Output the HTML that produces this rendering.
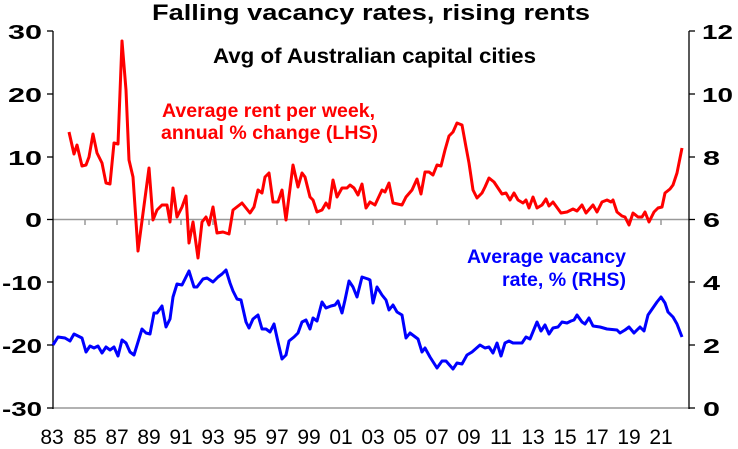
<!DOCTYPE html><html><head><style>body{margin:0;background:#fff}svg{display:block;font-family:"Liberation Sans",Arial,sans-serif;font-weight:bold}</style></head><body>
<svg width="738" height="449" viewBox="0 0 738 449">
<rect width="738" height="449" fill="#fff"/>
<text x="152" y="20" font-size="22" textLength="438" lengthAdjust="spacingAndGlyphs">Falling vacancy rates, rising rents</text>
<text x="213" y="63" font-size="21" textLength="323" lengthAdjust="spacingAndGlyphs">Avg of Australian capital cities</text>
<text x="162" y="117" font-size="19" fill="#f00" textLength="213" lengthAdjust="spacingAndGlyphs">Average rent per week,</text>
<text x="161" y="139" font-size="19" fill="#f00" textLength="217" lengthAdjust="spacingAndGlyphs">annual % change (LHS)</text>
<text x="467" y="263" font-size="19" fill="#00f" textLength="159" lengthAdjust="spacingAndGlyphs">Average vacancy</text>
<text x="502" y="286" font-size="19" fill="#00f" textLength="124" lengthAdjust="spacingAndGlyphs">rate, % (RHS)</text>
<g stroke="#999" stroke-width="1.5">
<line x1="53" y1="219.5" x2="689" y2="219.5"/>
<line x1="53" y1="408" x2="689" y2="408"/>
<line x1="85" y1="219" x2="85" y2="225"/><line x1="117" y1="219" x2="117" y2="225"/><line x1="149" y1="219" x2="149" y2="225"/><line x1="181" y1="219" x2="181" y2="225"/><line x1="213" y1="219" x2="213" y2="225"/><line x1="245" y1="219" x2="245" y2="225"/><line x1="277" y1="219" x2="277" y2="225"/><line x1="309" y1="219" x2="309" y2="225"/><line x1="341" y1="219" x2="341" y2="225"/><line x1="373" y1="219" x2="373" y2="225"/><line x1="405" y1="219" x2="405" y2="225"/><line x1="437" y1="219" x2="437" y2="225"/><line x1="469" y1="219" x2="469" y2="225"/><line x1="501" y1="219" x2="501" y2="225"/><line x1="533" y1="219" x2="533" y2="225"/><line x1="565" y1="219" x2="565" y2="225"/><line x1="597" y1="219" x2="597" y2="225"/><line x1="629" y1="219" x2="629" y2="225"/><line x1="661" y1="219" x2="661" y2="225"/>
</g>
<g stroke="#000" stroke-width="1.3">
<line x1="53" y1="31" x2="53" y2="409"/><line x1="689" y1="31" x2="689" y2="409"/>
<line x1="47" y1="31" x2="53" y2="31"/><line x1="47" y1="94" x2="53" y2="94"/><line x1="47" y1="157" x2="53" y2="157"/><line x1="47" y1="219.5" x2="53" y2="219.5"/><line x1="47" y1="282" x2="53" y2="282"/><line x1="47" y1="345" x2="53" y2="345"/><line x1="47" y1="408" x2="53" y2="408"/>
<line x1="689" y1="31" x2="695" y2="31"/><line x1="689" y1="94" x2="695" y2="94"/><line x1="689" y1="157" x2="695" y2="157"/><line x1="689" y1="219.5" x2="695" y2="219.5"/><line x1="689" y1="282" x2="695" y2="282"/><line x1="689" y1="345" x2="695" y2="345"/><line x1="689" y1="408" x2="695" y2="408"/>
</g>
<g font-size="20">
<text x="8" y="39" textLength="34" lengthAdjust="spacingAndGlyphs">30</text><text x="8" y="102" textLength="34" lengthAdjust="spacingAndGlyphs">20</text><text x="8" y="165" textLength="34" lengthAdjust="spacingAndGlyphs">10</text><text x="25" y="227" textLength="17" lengthAdjust="spacingAndGlyphs">0</text><text x="2" y="290" textLength="40" lengthAdjust="spacingAndGlyphs">-10</text><text x="2" y="353" textLength="40" lengthAdjust="spacingAndGlyphs">-20</text><text x="2" y="416" textLength="40" lengthAdjust="spacingAndGlyphs">-30</text>
</g>
<g font-size="20">
<text x="702" y="39" textLength="31" lengthAdjust="spacingAndGlyphs">12</text><text x="702" y="102" textLength="31" lengthAdjust="spacingAndGlyphs">10</text><text x="703" y="165" textLength="17" lengthAdjust="spacingAndGlyphs">8</text><text x="703" y="227" textLength="17" lengthAdjust="spacingAndGlyphs">6</text><text x="703" y="290" textLength="17" lengthAdjust="spacingAndGlyphs">4</text><text x="703" y="353" textLength="17" lengthAdjust="spacingAndGlyphs">2</text><text x="703" y="416" textLength="17" lengthAdjust="spacingAndGlyphs">0</text>
</g>
<g font-size="21" text-anchor="middle" style="font-weight:normal">
<text x="52" y="444">83</text><text x="85" y="444">85</text><text x="117" y="444">87</text><text x="149" y="444">89</text><text x="181" y="444">91</text><text x="213" y="444">93</text><text x="245" y="444">95</text><text x="277" y="444">97</text><text x="309" y="444">99</text><text x="341" y="444">01</text><text x="373" y="444">03</text><text x="405" y="444">05</text><text x="437" y="444">07</text><text x="469" y="444">09</text><text x="501" y="444">11</text><text x="533" y="444">13</text><text x="565" y="444">15</text><text x="597" y="444">17</text><text x="629" y="444">19</text><text x="661" y="444">21</text>
</g>
<polyline fill="none" stroke="#f00" stroke-width="3" stroke-linejoin="round" points="69,132 74,154 77,145 82,166 86,165 89,157 93,134 97,153 102,163 106,183 110,184 114,143 118,144 122,41 126,90 129,160 133,177 138,251 149,168 153,220 157,210 162,205 167,205 170,222 173,188 177,217 182,207 186,196 189,243 193,222 198,258 202,222 206,217 209,225 213,207 217,233 223,232 229,234 233,210 242,203 250,213 254,207 258,190 262,193 265,177 269,173 273,202 278,202 282,190 286,220 293,165 298,187 302,173 305,177 310,197 313,200 317,212 322,210 326,203 329,208 333,180 337,197 342,188 347,188 350,185 354,188 358,195 362,184 366,208 370,202 375,205 382,190 385,192 389,183 393,203 402,205 406,197 412,190 417,179 421,194 425,172 429,172 433,175 437,165 441,166 445,150 449,136 453,132 457,123 462,125 466,147 469,163 473,190 477,198 482,193 485,187 489,178 494,182 498,188 502,194 506,193 510,200 514,193 518,200 523,203 526,200 529,208 533,197 537,208 542,205 546,199 549,206 553,202 561,213 567,212 573,209 577,211 582,205 586,213 593,205 597,212 602,202 607,200 611,202 613,200 617,212 622,216 625,217 629,225 633,213 638,217 642,217 645,212 649,222 654,212 658,208 662,207 665,193 670,189 673,185 677,173 682,148"/>
<polyline fill="none" stroke="#00f" stroke-width="3" stroke-linejoin="round" points="53,345 58,337 65,338 70,341 74,334 82,338 86,352 90,346 94,348 98,346 102,353 106,347 110,350 114,347 118,356 122,340 126,343 130,352 134,355 138,342 142,329 146,333 150,334 154,313 157,313 162,306 166,327 170,319 173,297 177,284 182,285 189,271 194,287 197,287 203,279 207,278 213,282 218,277 222,274 226,270 230,283 233,291 237,299 241,300 246,322 249,328 253,319 258,315 262,329 266,329 270,332 274,324 278,342 282,359 286,355 289,341 294,337 298,333 302,322 306,320 310,329 313,318 317,321 322,302 326,308 331,306 335,305 338,301 342,313 345,300 349,281 353,287 357,297 362,277 368,279 370,280 373,303 377,287 382,295 386,300 389,310 393,305 397,312 402,315 406,338 410,333 418,339 422,352 425,348 430,357 437,368 442,361 446,361 453,369 457,363 462,364 467,355 472,352 480,345 485,348 489,347 493,353 497,343 501,356 505,343 509,341 513,343 522,343 526,337 530,339 537,322 541,331 545,325 549,334 553,328 558,327 562,322 567,323 571,321 574,320 577,315 582,322 585,324 589,318 593,326 600,327 607,329 617,330 620,333 625,330 629,327 634,333 640,327 644,331 648,315 657,302 661,297 665,303 668,312 673,317 677,324 682,337"/>
</svg>
</body></html>
